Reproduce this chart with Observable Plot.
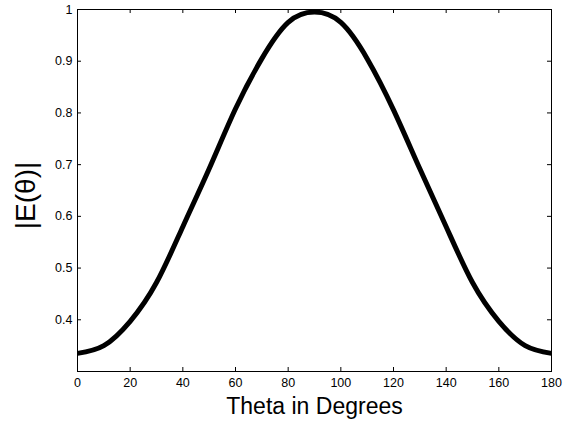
<!DOCTYPE html>
<html>
<head>
<meta charset="utf-8">
<script src="https://cdn.jsdelivr.net/npm/d3@7"></script>
<script src="https://cdn.jsdelivr.net/npm/@observablehq/plot@0.6"></script>
<style>
  html, body { margin: 0; padding: 0; background: #fff; }
  #chart svg { display: block; }
</style>
</head>
<body>
<div id="chart"></div>
<script>
// Data
const thetaDeg = [0, 10, 20, 30, 40, 50, 60, 70, 80, 90, 100, 110, 120, 130, 140, 150, 160, 170, 180];
const absE = [0.335, 0.350, 0.397, 0.472, 0.580, 0.692, 0.808, 0.905, 0.975, 0.995, 0.975, 0.905, 0.806, 0.692, 0.580, 0.472, 0.397, 0.350, 0.335];
const xTicks = [0, 20, 40, 60, 80, 100, 120, 140, 160, 180];
const yTicks = [0.4, 0.5, 0.6, 0.7, 0.8, 0.9, 1];
const xLabel = "Theta in Degrees";
const yLabel = "|E(θ)|";

const data = thetaDeg.map((t, i) => ({theta: t, e: absE[i]}));

const W = 563, H = 430;
const mL = 77, mR = 12, mT = 9, mB = 59;
const plotW = W - mL - mR, plotH = H - mT - mB;
const tickLen = 4;
const font = "'Liberation Sans', Arial, Helvetica, sans-serif";

const chart = Plot.plot({
  width: W,
  height: H,
  marginLeft: mL,
  marginRight: mR,
  marginTop: mT,
  marginBottom: mB,
  style: {fontFamily: font, color: "#000", background: "#fff"},
  x: {domain: [0, 180]},
  y: {domain: [0.3, 1]},
  marks: [
    Plot.line(data, {x: "theta", y: "e", stroke: "#000", strokeWidth: 5, strokeLinecap: "butt", curve: "natural"}),
    // inward ticks, bottom and top
    Plot.tickX(xTicks, {x: d => d, stroke: "#000", insetTop: plotH - tickLen}),
    Plot.tickX(xTicks, {x: d => d, stroke: "#000", insetBottom: plotH - tickLen}),
    // inward ticks, left and right
    Plot.tickY(yTicks, {y: d => d, stroke: "#000", insetRight: plotW - tickLen}),
    Plot.tickY(yTicks, {y: d => d, stroke: "#000", insetLeft: plotW - tickLen}),
    Plot.axisX({ticks: xTicks, tickSize: 0, tickPadding: 7, fontSize: 12.5, label: null, tickFormat: d => String(d)}),
    Plot.axisY({ticks: yTicks, tickSize: 0, tickPadding: 5, fontSize: 12.5, label: null, tickFormat: d => d === 1 ? "1" : d.toFixed(1)}),
    Plot.frame({stroke: "#000", strokeWidth: 1}),
    Plot.text([xLabel], {frameAnchor: "bottom", dy: 42, fontSize: 23, fill: "#000"}),
    Plot.text([yLabel], {frameAnchor: "left", textAnchor: "middle", dx: -51, dy: 5, rotate: -90, fontSize: 28, fill: "#000"})
  ]
});
document.getElementById("chart").appendChild(chart);
</script>
</body>
</html>
